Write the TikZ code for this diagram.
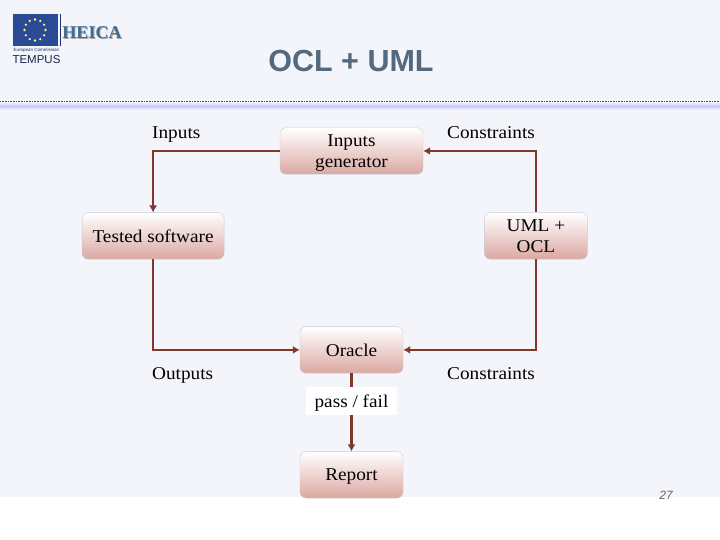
\documentclass[tikz,border=0pt]{standalone}
\usepackage{fontspec}
\setmainfont{Liberation Serif}
\setsansfont{Liberation Sans}
\newfontfamily\boxfont[FakeStretch=1.07]{Liberation Serif}
\usepackage{xcolor}
\usetikzlibrary{positioning, arrows.meta, shadings}
\definecolor{slidebg}{HTML}{F3F5FB}
\definecolor{linkred}{HTML}{80382A}
\definecolor{boxpink}{HTML}{DBA8A2}
\definecolor{boxedge}{HTML}{C3D0D8}
\definecolor{titleblue}{HTML}{54697E}
\definecolor{flagblue}{HTML}{2B4A96}
\definecolor{heicablue}{HTML}{3F6C94}

\begin{document}
\begin{tikzpicture}[
  x=1pt, y=-1pt,
  node distance=38pt,
  smallbox/.style={draw=boxedge, rounded corners=6pt, top color=white, bottom color=boxpink, minimum height=46.5pt, inner sep=0pt, align=center, text depth=-1.5pt, font=\boxfont\fontsize{18}{21.5}\selectfont, text=black},
  plainlabel/.style={inner sep=0pt, anchor=west, text depth=0pt, font=\boxfont\fontsize{18}{21}\selectfont},
  arrow/.style={-{Latex[length=7pt,width=8pt]}, draw=linkred, line width=1.6pt},
]
  \useasboundingbox (0,0) rectangle (720,540);

  % Slide background
  \fill[slidebg] (0,0) rectangle (720,497);
  \shade[top color=slidebg, bottom color=slidebg, middle color=blue!18!slidebg] (0,102) rectangle (720,110);
  \draw[black!70, densely dotted, line width=0.6pt] (0,101.5) -- (720,101.5);

  % Logo
  \fill[flagblue] (13,14) rectangle (58,46);
  \foreach \a in {0,30,...,330} {
    \fill[yellow!55!white] ({35+10.5*cos(\a)},{30+10.5*sin(\a)}) circle (1.3pt);
  }
  \draw[flagblue!70!black, line width=0.8pt] (60,14) -- (60,46);
  \node (commission) [inner sep=0pt, text=flagblue!60!black, font=\sffamily\fontsize{4.5}{5}\selectfont] at (36.5,50.5) {European Commission};
  \node (tempus) [inner sep=0pt, text=flagblue!50!black, font=\sffamily\fontsize{11.5}{14}\selectfont] at (36.5,60) {TEMPUS};
  \node (heicashade) [inner sep=0pt, text=black!35, font=\bfseries\fontsize{18}{20}\selectfont] at (93,34) {HEICA};
  \node (heica) [inner sep=0pt, text=heicablue, font=\bfseries\fontsize{18}{20}\selectfont] at (92,33) {HEICA};

  % Title
  \node (title) [text=titleblue, font=\sffamily\bfseries\fontsize{30.5}{36}\selectfont] at (351,61) {OCL + UML};

  % Boxes
  \node (generator) [smallbox, minimum width=143pt] at (351.5,151) {Inputs\\generator};
  \node (tested) [smallbox, minimum width=142pt, below left=38pt and 55.5pt of generator] {Tested software};
  \node (uml) [smallbox, minimum width=103pt, below right=38pt and 61pt of generator] {UML +\\OCL};
  \node (oracle) [smallbox, minimum width=103pt, below=152pt of generator] {Oracle};
  \node (report) [smallbox, minimum width=103pt, below=78pt of oracle] {Report};

  % Labels
  \node (inputs) [plainlabel] at (152,133) {Inputs};
  \node (constraintstop) [plainlabel] at (447,133) {Constraints};
  \node (outputs) [plainlabel] at (152,374) {Outputs};
  \node (constraintsbottom) [plainlabel] at (447,374) {Constraints};

  % Connect the boxes
  \draw [arrow] (generator.west) -| (tested.north);
  \draw [arrow] (uml.north) |- (generator.east);
  \draw [arrow] (tested.south) |- (oracle.west);
  \draw [arrow] (uml.south) |- (oracle.east);
  \draw [arrow, line width=2.2pt] (oracle.south) -- node (passfail) [fill=white, minimum width=91pt, minimum height=28pt, inner sep=0pt, pos=0.36, text depth=-1pt, font=\boxfont\fontsize{18}{21}\selectfont] {pass / fail} (report.north);

  % Page number
  \node (pagenum) [inner sep=0pt, text=black!60, font=\sffamily\itshape\fontsize{12}{13}\selectfont] at (666,495.5) {27};
\end{tikzpicture}
\end{document}
